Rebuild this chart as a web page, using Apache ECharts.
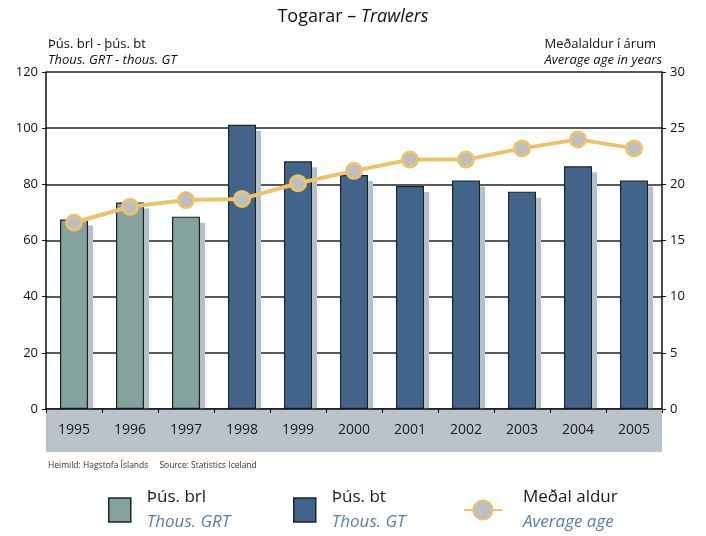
<!DOCTYPE html>
<html>
<head>
<meta charset="utf-8">
<script src="https://cdn.jsdelivr.net/npm/echarts@6/dist/echarts.min.js"></script>
<style>
  html, body { margin: 0; padding: 0; background: #fff; }
  #chart { width: 706px; height: 536px; }
</style>
</head>
<body>
<div id="chart"></div>
<script>
// data
const years = ['1995', '1996', '1997', '1998', '1999', '2000', '2001', '2002', '2003', '2004', '2005'];
const grt = [67.5, 73.5, 68.5, '-', '-', '-', '-', '-', '-', '-', '-'];   // þús. brl
const gt = ['-', '-', '-', 101.2, 88.2, 83.3, 79.4, 81.4, 77.4, 86.4, 81.4]; // þús. bt
const avgAge = [16.6, 18.0, 18.6, 18.7, 20.1, 21.2, 22.2, 22.2, 23.2, 24.0, 23.2];
const leftTicks = { min: 0, max: 120, interval: 20 };
const rightTicks = { min: 0, max: 30, interval: 5 };

const FONT = '"Open Sans", "Noto Sans", sans-serif';
const GRT_COLOR = '#84a39f';
const GT_COLOR = '#43648a';
const GOLD = '#e9c36f';
const BAND = '#bac2cc';
const SHADOW = '#b7bfc8';
const BORDER = '#1e2324';

const chart = echarts.init(document.getElementById('chart'));

// two-line legend label
const legendText = (a, b, pad) => ({
  formatter: () => '{a|' + a + '}\n{b|' + b + '}',
  textStyle: {
    rich: {
      a: { fontFamily: FONT, fontSize: 17, color: '#1a1a1a', padding: [0, 0, 0, pad], lineHeight: 25 },
      b: { fontFamily: FONT, fontSize: 17, fontStyle: 'italic', color: '#5b7ea6', padding: [0, 0, 0, pad], lineHeight: 25 }
    }
  }
});

const titleText = { fontFamily: FONT, fontSize: 13, fontWeight: 'normal', color: '#111', lineHeight: 16 };

// hidden category/value axes for the offset grey "shadow" bars
const hiddenAxis = { show: false };

const options = {
  animation: false,
  title: [
    {
      text: '{n|Togarar – }{i|Trawlers}',
      left: 'center',
      top: 8,
      padding: 0,
      textStyle: {
        fontWeight: 'normal',
        rich: {
          n: { fontFamily: FONT, fontSize: 18, color: '#111' },
          i: { fontFamily: FONT, fontSize: 18, fontStyle: 'italic', color: '#111' }
        }
      }
    },
    {
      text: 'Þús. brl - þús. bt\n{i|Thous. GRT - thous. GT}',
      left: 48,
      top: 36,
      padding: 0,
      textStyle: Object.assign({}, titleText, {
        rich: { i: Object.assign({}, titleText, { fontStyle: 'italic' }) }
      })
    },
    {
      text: 'Meðalaldur í árum\n{i|Average age in years}',
      right: 44,
      top: 36,
      padding: 0,
      textStyle: Object.assign({}, titleText, {
        align: 'right',
        rich: { i: Object.assign({}, titleText, { fontStyle: 'italic', align: 'right' }) }
      })
    },
    {
      text: 'Heimild: Hagstofa Íslands     Source: Statistics Iceland',
      left: 48,
      top: 461,
      padding: 0,
      textStyle: { fontFamily: FONT, fontSize: 8.5, fontWeight: 'normal', color: '#333' }
    }
  ],
  legend: [
    Object.assign({
      data: [{ name: 'Þús. brl', icon: 'rect' }], left: 108, top: 489, padding: 0, itemWidth: 22, itemHeight: 24,
      itemStyle: { borderColor: BORDER, borderWidth: 1.5 }
    }, legendText('Þús. brl', 'Thous. GRT', 11)),
    Object.assign({
      data: [{ name: 'Þús. bt', icon: 'rect' }], left: 293, top: 489, padding: 0, itemWidth: 22, itemHeight: 24,
      itemStyle: { borderColor: BORDER, borderWidth: 1.5 }
    }, legendText('Þús. bt', 'Thous. GT', 11)),
    Object.assign({
      data: ['Meðal aldur'], left: 463, top: 489, padding: 0, itemWidth: 38, itemHeight: 24
    }, legendText('Meðal aldur', 'Average age', 16))
  ],
  graphic: [
    {
      type: 'rect',
      shape: { x: 46, y: 409, width: 616, height: 43 },
      style: { fill: BAND },
      z: 1,
      silent: true
    }
  ],
  grid: [
    { left: 46, right: 44, top: 72, bottom: 127 },
    { left: 51, right: 39, top: 78, bottom: 121 }   // shadow grid, shifted 5px right / 6px down
  ],
  xAxis: [
    {
      type: 'category',
      data: years,
      gridIndex: 0,
      z: 10,
      axisLine: { lineStyle: { color: '#111', width: 1.5 } },
      axisTick: { show: true, length: 4, lineStyle: { color: '#111' } },
      axisLabel: { fontFamily: FONT, fontSize: 14, color: '#1a1a1a', margin: 14 }
    },
    Object.assign({ type: 'category', data: years, gridIndex: 1 }, hiddenAxis)
  ],
  yAxis: [
    {
      type: 'value',
      gridIndex: 0,
      min: leftTicks.min, max: leftTicks.max, interval: leftTicks.interval,
      axisLine: { show: true, lineStyle: { color: '#111', width: 1.5 } },
      axisTick: { show: true, length: 4, lineStyle: { color: '#111' } },
      axisLabel: { fontFamily: FONT, fontSize: 13, color: '#111', margin: 8 },
      splitLine: { lineStyle: { color: '#222', width: 1.5 } }
    },
    {
      type: 'value',
      gridIndex: 0,
      min: rightTicks.min, max: rightTicks.max, interval: rightTicks.interval,
      axisLine: { show: true, lineStyle: { color: '#111', width: 1.5 } },
      axisTick: { show: true, length: 4, lineStyle: { color: '#111' } },
      axisLabel: { fontFamily: FONT, fontSize: 13, color: '#111', margin: 8 },
      splitLine: { show: false }
    },
    Object.assign({
      type: 'value', gridIndex: 1,
      min: leftTicks.min, max: leftTicks.max, interval: leftTicks.interval
    }, hiddenAxis)
  ],
  series: [
    {
      name: 'shadow brl',
      type: 'bar',
      xAxisIndex: 1, yAxisIndex: 2,
      stack: 'shadow',
      barWidth: '50%',
      data: grt,
      itemStyle: { color: SHADOW },
      silent: true,
      z: 0
    },
    {
      name: 'shadow bt',
      type: 'bar',
      xAxisIndex: 1, yAxisIndex: 2,
      stack: 'shadow',
      barWidth: '50%',
      data: gt,
      itemStyle: { color: SHADOW },
      silent: true,
      z: 0
    },
    {
      name: 'Þús. brl',
      type: 'bar',
      stack: 'tonnage',
      barWidth: '50%',
      data: grt,
      itemStyle: { color: GRT_COLOR, borderColor: BORDER, borderWidth: 1.2 },
      z: 3
    },
    {
      name: 'Þús. bt',
      type: 'bar',
      stack: 'tonnage',
      barWidth: '50%',
      data: gt,
      itemStyle: { color: GT_COLOR, borderColor: BORDER, borderWidth: 1.2 },
      z: 3
    },
    {
      name: 'Meðal aldur',
      type: 'line',
      yAxisIndex: 1,
      data: avgAge,
      symbol: 'circle',
      symbolSize: 15,
      lineStyle: { color: GOLD, width: 4 },
      itemStyle: { color: '#bbbec2', borderColor: GOLD, borderWidth: 3 },
      z: 5
    }
  ]
};

chart.setOption(options);
</script>
</body>
</html>
